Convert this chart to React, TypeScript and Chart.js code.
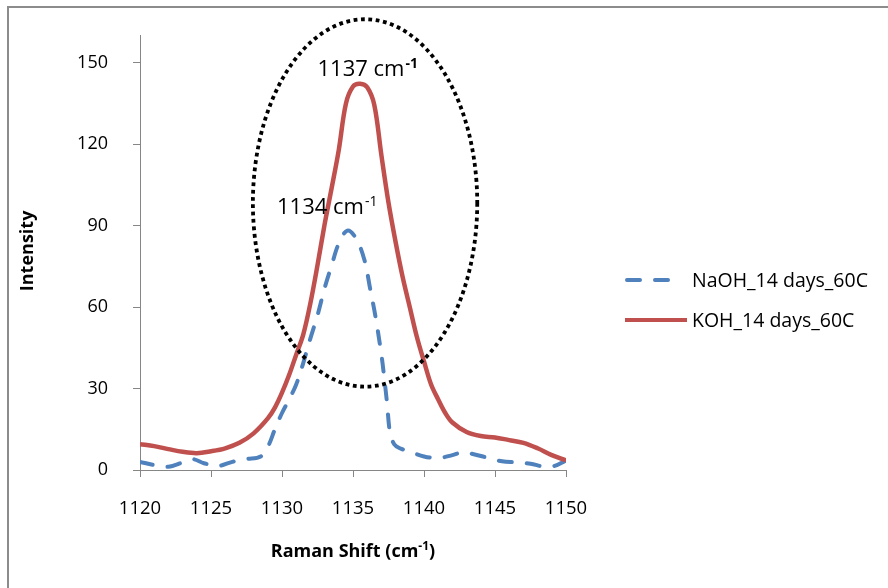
import React, { useEffect, useRef } from "react";
import { Chart, registerables } from "chart.js";

Chart.register(...registerables);

// ---- Data ----
const NAOH_SHIFT = [1120, 1121, 1122, 1123, 1123.7, 1124.5, 1125.5, 1126.5, 1127.5, 1128.5, 1129, 1129.5, 1130, 1130.5, 1131, 1131.5, 1132, 1132.5, 1133, 1133.5, 1134, 1134.6, 1135.2, 1135.8, 1136.2, 1136.6, 1137, 1137.2, 1137.4, 1137.6, 1137.9, 1138.3, 1139, 1140, 1141, 1142, 1142.7, 1143.5, 1144.5, 1145.5, 1146.5, 1147.5, 1148.5, 1149.2, 1150];
const NAOH_INT = [3, 1.8, 1.2, 2.8, 4, 2.5, 1.5, 3, 4, 5, 8.5, 15, 21, 26, 31.5, 39.5, 48.5, 57, 67, 75.5, 83.5, 88.2, 85.5, 77.5, 67, 56, 42.5, 34, 24.5, 14, 9.5, 8, 6.8, 5, 4.4, 5.5, 6.5, 5.8, 4.5, 3.2, 2.8, 2.3, 1.2, 1.5, 3.5];

const KOH_SHIFT = [1120, 1121, 1122, 1123, 1124, 1125, 1126, 1127, 1128, 1129, 1129.5, 1130, 1130.5, 1131, 1131.5, 1132, 1132.5, 1133, 1133.5, 1134, 1134.5, 1135, 1135.5, 1136, 1136.5, 1137, 1137.5, 1138, 1138.5, 1139, 1139.5, 1140, 1140.5, 1141, 1141.5, 1142, 1143, 1144, 1145, 1146, 1147, 1148, 1149, 1150];
const KOH_INT = [9.5, 8.8, 7.7, 6.7, 6.2, 6.9, 8.0, 10, 13.5, 19, 23, 28.5, 35, 42.5, 50, 61.5, 75.5, 90.5, 104, 118, 135, 141.3, 142.3, 141, 134.5, 116, 98.5, 84, 71, 60, 49, 40, 31.5, 26, 21, 17.5, 14, 12.5, 12, 11, 10, 8, 5.5, 3.5];

const SERIES_LABELS = ["NaOH_14 days_60C", "KOH_14 days_60C"];
const X_TITLE = "Raman Shift (cm";
const X_TITLE_SUP = "-1";
const Y_TITLE = "Intensity";

// annotations (data coordinates)
const PEAK_LABELS = ["1137 cm", "1134 cm"];
const PEAK_LABEL_X = [1132.5, 1129.65];
const PEAK_LABEL_Y = [145.3, 94.5];
const ELLIPSE_CENTER = [1135.85, 98.4];
const ELLIPSE_RADII = [7.9, 67.7];

const BLUE = "#4F81BD";
const RED = "#C0504D";
const AXIS = "#868686";
const FONT = "'Open Sans'";
const DASH = [13, 15];

const pts = (xs: number[], ys: number[]) => xs.map((x, i) => ({ x, y: ys[i] }));

const overlay = {
  id: "overlay",
  beforeDraw(chart: any) {
    const ctx = chart.ctx;
    ctx.save();
    ctx.fillStyle = "#ffffff";
    ctx.fillRect(0, 0, chart.width, chart.height);
    ctx.fillStyle = "#8c8c8c";
    ctx.fillRect(7, 6, chart.width - 7, 2);
    ctx.fillRect(7, 6, 2, chart.height - 6);
    ctx.restore();
  },
  afterDatasetsDraw(chart: any) {
    const { ctx, scales } = chart;
    const xs = scales.x, ys = scales.y;
    ctx.save();
    // ellipse
    const cx = xs.getPixelForValue(ELLIPSE_CENTER[0]);
    const cy = ys.getPixelForValue(ELLIPSE_CENTER[1]);
    const rx = Math.abs(xs.getPixelForValue(ELLIPSE_CENTER[0] + ELLIPSE_RADII[0]) - cx);
    const ry = Math.abs(ys.getPixelForValue(ELLIPSE_CENTER[1] + ELLIPSE_RADII[1]) - cy);
    ctx.beginPath();
    ctx.ellipse(cx, cy, rx, ry, 0, 0, Math.PI * 2);
    ctx.strokeStyle = "#000";
    ctx.lineWidth = 3.8;
    ctx.lineCap = "butt";
    ctx.setLineDash([3.8, 3.6]);
    ctx.stroke();
    ctx.setLineDash([]);
    // peak labels
    ctx.fillStyle = "#000";
    ctx.textBaseline = "alphabetic";
    ctx.textAlign = "left";
    PEAK_LABELS.forEach((t, i) => {
      const px = xs.getPixelForValue(PEAK_LABEL_X[i]);
      const py = ys.getPixelForValue(PEAK_LABEL_Y[i]);
      ctx.font = `22px ${FONT}`;
      ctx.fillText(t, px, py);
      const w = ctx.measureText(t).width;
      ctx.font = `${i === 0 ? "bold " : ""}14px ${FONT}`;
      ctx.fillText("-1", px + w + 1, py - 8);
    });
    ctx.restore();
  },
  afterDraw(chart: any) {
    const { ctx, chartArea } = chart;
    ctx.save();
    ctx.fillStyle = "#000";
    // x title
    ctx.font = `bold 18px ${FONT}`;
    const w1 = ctx.measureText(X_TITLE).width;
    ctx.font = `bold 12px ${FONT}`;
    const w2 = ctx.measureText(X_TITLE_SUP).width;
    ctx.font = `bold 18px ${FONT}`;
    const w3 = ctx.measureText(")").width;
    const total = w1 + w2 + w3;
    const cxm = (chartArea.left + chartArea.right) / 2;
    const sx = cxm - total / 2;
    const by = 557;
    ctx.textAlign = "left";
    ctx.textBaseline = "alphabetic";
    ctx.fillText(X_TITLE, sx, by);
    ctx.font = `bold 12px ${FONT}`;
    ctx.fillText(X_TITLE_SUP, sx + w1, by - 7);
    ctx.font = `bold 18px ${FONT}`;
    ctx.fillText(")", sx + w1 + w2, by);
    // y title
    ctx.save();
    ctx.translate(33, (chartArea.top + chartArea.bottom) / 2 - 2);
    ctx.rotate(-Math.PI / 2);
    ctx.textAlign = "center";
    ctx.font = `bold 18px ${FONT}`;
    ctx.fillText(Y_TITLE, 0, 0);
    ctx.restore();
    // legend
    const lx0 = 625, lx1 = 687, ly = [280, 320];
    ctx.lineWidth = 4;
    ctx.lineCap = "round";
    ctx.strokeStyle = BLUE;
    ctx.setLineDash(DASH);
    ctx.beginPath();
    ctx.moveTo(lx0 + 2, ly[0]);
    ctx.lineTo(672, ly[0]);
    ctx.stroke();
    ctx.setLineDash([]);
    ctx.lineCap = "butt";
    ctx.strokeStyle = RED;
    ctx.beginPath();
    ctx.moveTo(lx0, ly[1]);
    ctx.lineTo(lx1, ly[1]);
    ctx.stroke();
    ctx.font = `19.5px ${FONT}`;
    ctx.textBaseline = "middle";
    ctx.fillStyle = "#000";
    SERIES_LABELS.forEach((t, i) => ctx.fillText(t, 692, ly[i] + 1));
    ctx.restore();
  },
};

export default function App() {
  const ref = useRef<HTMLCanvasElement>(null);
  useEffect(() => {
    const chart = new Chart(ref.current!, {
      type: "line",
      data: {
        datasets: [
          {
            label: SERIES_LABELS[1],
            data: pts(KOH_SHIFT, KOH_INT),
            borderColor: RED,
            borderWidth: 4.5,
            pointRadius: 0,
            tension: 0.35,
            fill: false,
          },
          {
            label: SERIES_LABELS[0],
            data: pts(NAOH_SHIFT, NAOH_INT),
            borderColor: BLUE,
            borderWidth: 4,
            borderDash: DASH,
            borderCapStyle: "round",
            pointRadius: 0,
            tension: 0.35,
            fill: false,
          },
        ],
      },
      options: {
        responsive: false,
        animation: false,
        devicePixelRatio: 1,
        layout: { padding: { left: 40, top: 33, right: 322, bottom: 58 } },
        plugins: { legend: { display: false }, tooltip: { enabled: false } },
        scales: {
          x: {
            type: "linear",
            min: 1120,
            max: 1150,
            ticks: {
              stepSize: 5,
              color: "#000",
              font: { family: FONT, size: 18.5 },
              padding: 21,
              maxRotation: 0,
              callback: (v: any) => String(v),
            },
            grid: { drawOnChartArea: false, drawTicks: true, tickLength: 7, color: AXIS },
            border: { color: AXIS, width: 1 },
            afterFit: (s: any) => { s.height = 60; },
          },
          y: {
            type: "linear",
            min: 0,
            max: 160,
            ticks: {
              stepSize: 30,
              color: "#000",
              font: { family: FONT, size: 18 },
              padding: 25,
              callback: (v: any) => String(v),
            },
            afterBuildTicks: (s: any) => { s.ticks = s.ticks.filter((t: any) => t.value <= 150); },
            grid: { drawOnChartArea: false, drawTicks: true, tickLength: 7, color: AXIS },
            border: { color: AXIS, width: 1 },
            afterFit: (s: any) => { s.width = 100; },
          },
        },
      },
      plugins: [overlay],
    });
    return () => chart.destroy();
  }, []);
  return (
    <div style={{ position: "absolute", left: 0, top: 0, width: 888, height: 588 }}>
      <canvas ref={ref} width={888} height={588} style={{ display: "block" }} />
    </div>
  );
}
